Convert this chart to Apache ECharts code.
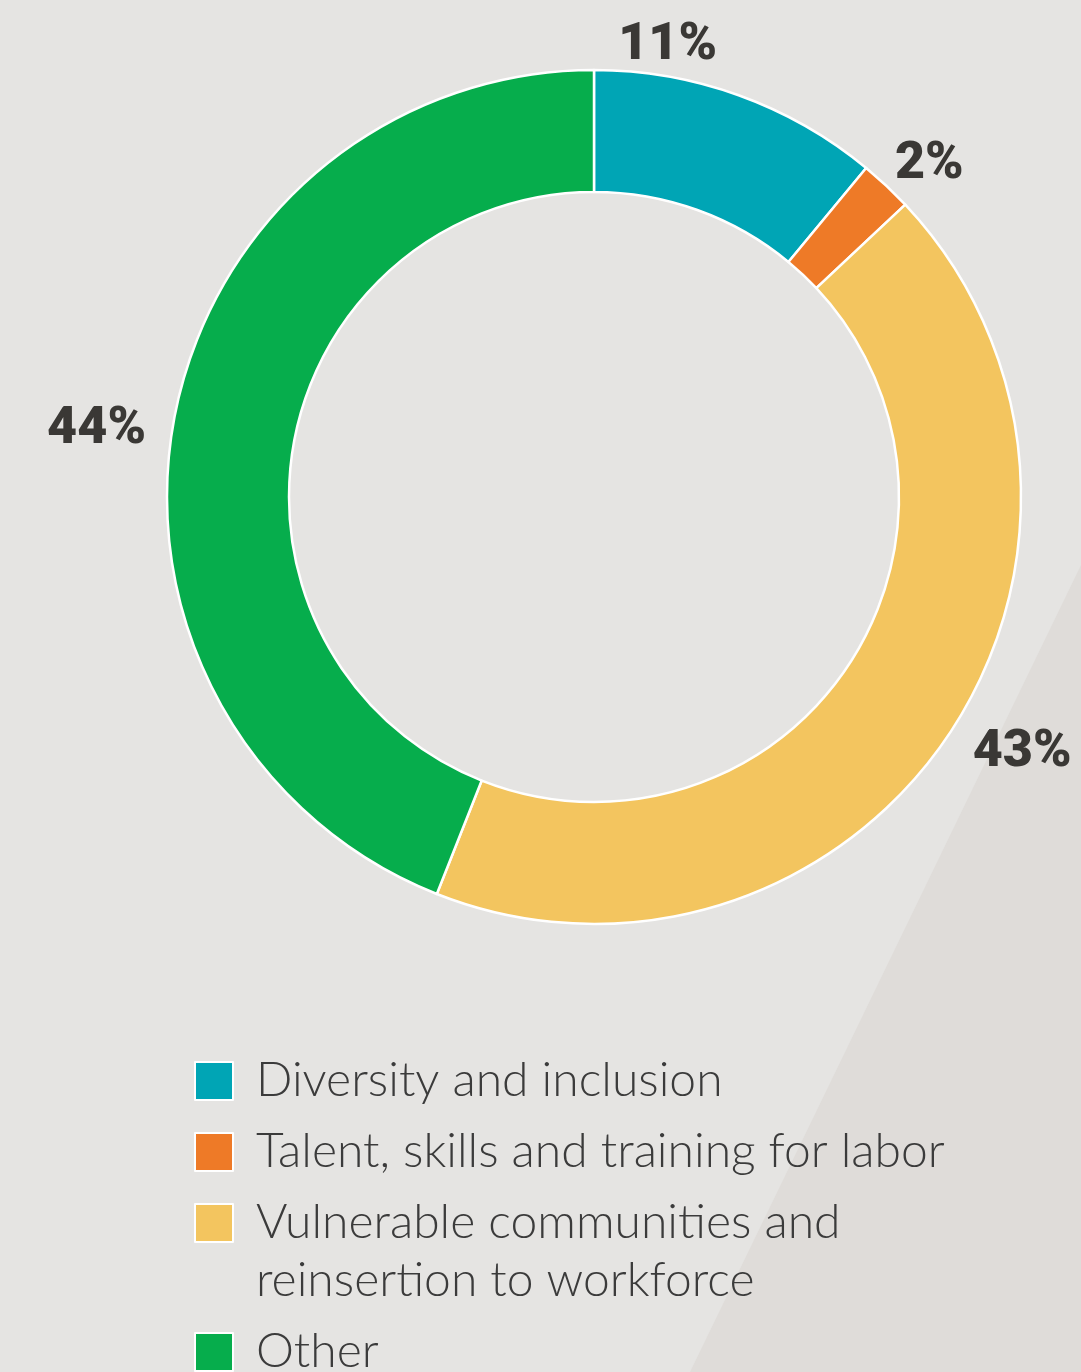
<!DOCTYPE html>
<html>
<head>
<meta charset="utf-8">
<script src="https://cdn.jsdelivr.net/npm/echarts@6/dist/echarts.min.js"></script>
<style>
  html, body { margin: 0; padding: 0; background: #e5e4e2; }
  #chart { width: 1081px; height: 1372px; }
</style>
</head>
<body>
<div id="chart"></div>
<script>
const categories = [
  'Diversity and inclusion',
  'Talent, skills and training for labor',
  'Vulnerable communities and reinsertion to workforce',
  'Other'
];
const shares = [11, 2, 43, 44];
const legendFirstLines = ['Diversity and inclusion', 'Talent, skills and training for labor', 'Vulnerable communities and', 'Other'];
const legendSecondLine = 'reinsertion to workforce';

const colors = ['#00a5b5', '#ee7a27', '#f3c55f', '#06ad4c'];
// % labels are hand placed in the original, nudge them off the mid angle
const labelNudge = [[-76, -49], [38, -21], [70, 16], [-73, 13]];

const chart = echarts.init(document.getElementById('chart'));

const legendText = {
  fontFamily: 'Lato',
  fontWeight: 300,
  fontSize: 48,
  color: '#3b3b3b',
  padding: [0, 0, 0, 18]
};

chart.setOption({
  backgroundColor: '#e5e4e2',
  color: colors,
  graphic: [
    {
      type: 'polygon',
      z: -10,
      silent: true,
      shape: { points: [[1081, 565], [1081, 1372], [690, 1372]] },
      style: { fill: '#dfdcd9' }
    },
    {
      type: 'text',
      left: 256,
      top: 1257,
      style: {
        text: legendSecondLine,
        font: '300 48px Lato',
        lineHeight: 48,
        fill: '#3b3b3b'
      }
    }
  ],
  legend: [
    {
      orient: 'vertical',
      left: 194,
      top: 1057,
      padding: 0,
      itemWidth: 38,
      itemHeight: 38,
      itemGap: 23,
      icon: 'rect',
      selectedMode: false,
      data: categories.slice(0, 3),
      formatter: name => legendFirstLines[categories.indexOf(name)],
      textStyle: legendText
    },
    {
      orient: 'vertical',
      left: 194,
      top: 1328,
      padding: 0,
      itemWidth: 38,
      itemHeight: 38,
      icon: 'rect',
      selectedMode: false,
      data: categories.slice(3),
      textStyle: legendText
    }
  ],
  series: [
    {
      type: 'pie',
      center: [594, 497],
      radius: [305, 427],
      startAngle: 90,
      clockwise: true,
      avoidLabelOverlap: false,
      silent: true,
      itemStyle: {
        borderColor: '#ffffff',
        borderWidth: 2.5
      },
      label: {
        show: true,
        position: 'outside',
        formatter: '{c}%',
        fontFamily: 'Roboto',
        fontWeight: 900,
        fontSize: 52,
        color: '#3a3835'
      },
      labelLine: { show: false, length: 0, length2: 0 },
      labelLayout: params => {
        const n = labelNudge[params.dataIndex];
        return { align: 'center', dx: n[0], dy: n[1] };
      },
      data: categories.map((name, i) => ({ name: name, value: shares[i] }))
    }
  ]
});
</script>
</body>
</html>
